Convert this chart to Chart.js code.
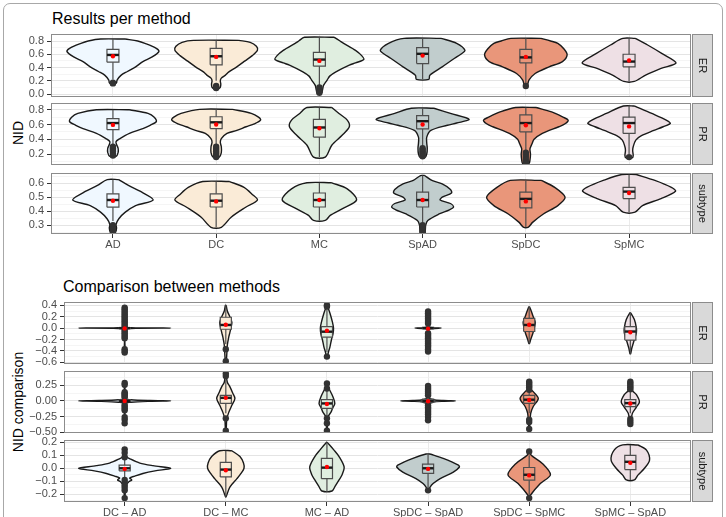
<!DOCTYPE html>
<html>
<head>
<meta charset="utf-8">
<script src="https://cdn.jsdelivr.net/npm/chart.js@4.4.1/dist/chart.umd.min.js"></script>
<style>
  body { margin: 0; width: 726px; height: 517px; overflow: hidden; background: #fff; position: relative;
         font-family: "Liberation Sans", Arial, sans-serif; }
  .frame { position: absolute; left: 3px; top: 3px; width: 718px; height: 530px; border: 1.5px solid #a8a8a8; border-radius: 7px; }
  .title { position: absolute; font-size: 16px; line-height: 16px; color: #000; white-space: nowrap; }
  .ylab { position: absolute; font-size: 14px; line-height: 16px; height: 16px; text-align: center; color: #000;
          transform: rotate(-90deg); white-space: nowrap; }
  canvas { position: absolute; left: 0; }
</style>
</head>
<body>
<div class="frame"></div>
<div class="title" style="left:52px; top:11px;">Results per method</div>
<div class="title" style="left:63px; top:279px;">Comparison between methods</div>
<div class="ylab" style="left:-12px; top:125px; width:60px;">NID</div>
<div class="ylab" style="left:-52px; top:394px; width:140px;">NID comparison</div>
<canvas id="c1"></canvas>
<canvas id="c2"></canvas>
<canvas id="c3"></canvas>
<canvas id="c4"></canvas>
<canvas id="c5"></canvas>
<canvas id="c6"></canvas>
<script>
const methods = ['AD', 'DC', 'MC', 'SpAD', 'SpDC', 'SpMC'];
const pairs = ['DC – AD', 'DC – MC', 'MC – AD', 'SpDC – SpAD', 'SpDC – SpMC', 'SpMC – SpAD'];
const fills = ['#F0F8FF', '#FAEBD7', '#E0EEE0', '#C1CDCD', '#E9967A', '#EEE0E5'];

// violin outlines: [value, half width in category units], top to bottom
// boxes: [lower whisker, q1, median, q3, upper whisker]

// Results per method - ER
const resErTicks = [0, 0.2, 0.4, 0.6, 0.8];
const resErViolin = [
  [[0.83,0.12],[0.80,0.24],[0.765,0.31],[0.69,0.42],[0.64,0.445],[0.56,0.38],[0.49,0.29],[0.41,0.22],[0.34,0.14],[0.285,0.08],[0.21,0.04],[0.17,0.035],[0.15,0.02]],
  [[0.81,0.22],[0.78,0.33],[0.72,0.39],[0.66,0.40],[0.58,0.35],[0.50,0.28],[0.41,0.2],[0.33,0.12],[0.285,0.09],[0.24,0.05],[0.2,0.04],[0.15,0.045],[0.1,0.04],[0.08,0.02]],
  [[0.856,0.145],[0.80,0.2],[0.765,0.235],[0.66,0.35],[0.58,0.41],[0.52,0.43],[0.47,0.35],[0.436,0.29],[0.335,0.16],[0.27,0.1],[0.21,0.075],[0.13,0.04],[0.06,0.03],[0.01,0.02]],
  [[0.84,0.18],[0.765,0.33],[0.66,0.41],[0.60,0.37],[0.54,0.31],[0.41,0.19],[0.285,0.07],[0.22,0.06]],
  [[0.84,0.145],[0.80,0.24],[0.765,0.31],[0.68,0.37],[0.59,0.40],[0.49,0.355],[0.41,0.225],[0.31,0.09],[0.21,0.03],[0.14,0.015]],
  [[0.84,0.06],[0.74,0.18],[0.61,0.32],[0.47,0.455],[0.386,0.31],[0.285,0.16],[0.19,0.05]]
];
const resErBox = [[0.22,0.48,0.59,0.675,0.83],[0.2,0.44,0.57,0.69,0.81],[0.13,0.42,0.52,0.63,0.856],[0.22,0.46,0.607,0.70,0.84],[0.14,0.47,0.553,0.674,0.84],[0.19,0.41,0.49,0.60,0.84]];
const resErMean = [0.57, 0.56, 0.50, 0.58, 0.56, 0.505];
const resErOut = [[0.17,0.16],[0.12,0.10,0.09],[0.10,0.07,0.04,0.02],[],[0.12],[]];

// Results per method - PR
const resPrTicks = [0.2, 0.4, 0.6, 0.8];
const resPrViolin = [
  [[0.80,0.16],[0.75,0.34],[0.70,0.40],[0.64,0.42],[0.59,0.36],[0.545,0.29],[0.48,0.16],[0.41,0.068],[0.37,0.03],[0.33,0.035],[0.28,0.05],[0.22,0.05],[0.17,0.03]],
  [[0.805,0.16],[0.75,0.34],[0.70,0.41],[0.66,0.43],[0.61,0.37],[0.57,0.29],[0.52,0.2],[0.48,0.105],[0.41,0.05],[0.36,0.04],[0.30,0.05],[0.22,0.05],[0.16,0.03]],
  [[0.83,0.12],[0.75,0.19],[0.66,0.27],[0.57,0.29],[0.455,0.22],[0.32,0.12],[0.16,0.057]],
  [[0.82,0.11],[0.75,0.27],[0.67,0.45],[0.62,0.33],[0.59,0.24],[0.52,0.08],[0.43,0.04],[0.35,0.04],[0.28,0.045],[0.2,0.04],[0.16,0.025]],
  [[0.83,0.1],[0.77,0.25],[0.70,0.36],[0.66,0.41],[0.61,0.38],[0.57,0.32],[0.48,0.16],[0.40,0.08],[0.34,0.06],[0.27,0.04],[0.2,0.045],[0.12,0.04],[0.07,0.03]],
  [[0.85,0.055],[0.75,0.22],[0.66,0.36],[0.615,0.40],[0.57,0.33],[0.52,0.24],[0.45,0.12],[0.39,0.065],[0.3,0.04],[0.25,0.035],[0.18,0.04],[0.15,0.03]]
];
const resPrBox = [[0.32,0.53,0.62,0.68,0.80],[0.33,0.546,0.63,0.705,0.805],[0.16,0.43,0.56,0.67,0.83],[0.30,0.54,0.645,0.72,0.82],[0.24,0.50,0.62,0.73,0.83],[0.20,0.48,0.62,0.70,0.85]];
const resPrMean = [0.595, 0.60, 0.55, 0.60, 0.59, 0.575];
const resPrOut = [[0.30,0.28,0.26,0.24,0.21,0.18],[0.30,0.27,0.24,0.21,0.18,0.16],[],[0.28,0.26,0.24,0.22,0.20,0.18,0.17],[0.22,0.19,0.16,0.12,0.09,0.07],[0.16]];

// Results per method - subtype
const resSubTicks = [0.3, 0.4, 0.5, 0.6];
const resSubViolin = [
  [[0.626,0.055],[0.584,0.15],[0.536,0.28],[0.48,0.39],[0.44,0.22],[0.393,0.12],[0.346,0.057],[0.305,0.03],[0.28,0.035],[0.25,0.025]],
  [[0.612,0.13],[0.57,0.27],[0.52,0.35],[0.48,0.40],[0.43,0.29],[0.357,0.145],[0.285,0.05]],
  [[0.603,0.12],[0.56,0.27],[0.48,0.36],[0.417,0.22],[0.37,0.105],[0.334,0.057]],
  [[0.655,0.02],[0.62,0.09],[0.595,0.19],[0.555,0.27],[0.53,0.28],[0.50,0.19],[0.48,0.17],[0.455,0.27],[0.43,0.3],[0.41,0.26],[0.38,0.16],[0.334,0.05],[0.3,0.03],[0.24,0.02]],
  [[0.62,0.15],[0.57,0.28],[0.50,0.38],[0.44,0.31],[0.38,0.17],[0.32,0.065],[0.286,0.025]],
  [[0.662,0.07],[0.62,0.25],[0.57,0.41],[0.543,0.45],[0.49,0.31],[0.44,0.13],[0.393,0.057]]
];
const resSubBox = [[0.33,0.429,0.48,0.524,0.626],[0.285,0.43,0.475,0.524,0.612],[0.334,0.43,0.48,0.53,0.603],[0.32,0.43,0.48,0.536,0.655],[0.286,0.424,0.488,0.536,0.62],[0.393,0.49,0.54,0.57,0.662]];
const resSubMean = [0.475, 0.47, 0.48, 0.48, 0.47, 0.53];
const resSubOut = [[0.30,0.28,0.27,0.25],[],[],[0.30,0.28,0.26,0.25],[],[]];

// Comparison between methods - ER
const cmpErTicks = [-0.6, -0.4, -0.2, 0, 0.2, 0.4];
const cmpErViolin = [
  [[0.37,0.004],[0.03,0.006],[0.006,0.06],[0,0.455],[-0.006,0.06],[-0.03,0.006],[-0.43,0.004]],
  [[0.40,0.004],[0.3,0.015],[0.2,0.04],[0.1,0.06],[0.0,0.05],[-0.08,0.04],[-0.15,0.03],[-0.3,0.015],[-0.45,0.01],[-0.58,0.004]],
  [[0.40,0.004],[0.36,0.01],[0.26,0.03],[0.1,0.055],[0.0,0.065],[-0.1,0.06],[-0.2,0.045],[-0.33,0.03],[-0.42,0.015],[-0.5,0.004]],
  [[0.29,0.004],[0.03,0.006],[0.008,0.04],[0,0.13],[-0.008,0.04],[-0.03,0.006],[-0.41,0.004]],
  [[0.375,0.003],[0.3,0.02],[0.2,0.04],[0.1,0.06],[0.0,0.05],[-0.1,0.035],[-0.2,0.015],[-0.27,0.003]],
  [[0.27,0.003],[0.15,0.04],[0.0,0.06],[-0.08,0.06],[-0.2,0.04],[-0.35,0.015],[-0.45,0.003]]
];
const cmpErBox = [[-0.03,-0.005,0.0,0.005,0.03],[-0.28,-0.02,0.055,0.19,0.40],[-0.42,-0.16,-0.063,0.025,0.36],[-0.04,-0.01,0.0,0.015,0.04],[-0.27,-0.06,0.055,0.17,0.375],[-0.45,-0.21,-0.06,0.025,0.27]];
const cmpErMean = [-0.005, 0.06, -0.045, -0.01, 0.06, -0.075];
const cmpErOut = [
  [0.36,0.33,0.30,0.27,0.24,0.21,0.18,0.15,0.12,0.09,0.06,0.03,-0.03,-0.06,-0.09,-0.12,-0.15,-0.18,-0.37,-0.40,-0.43],
  [-0.37,-0.58],
  [0.40,0.38,-0.50],
  [0.29,0.26,0.23,0.20,0.17,0.14,0.11,0.08,-0.09,-0.12,-0.15,-0.18,-0.21,-0.24,-0.27,-0.30,-0.33,-0.37,-0.41],
  [],
  []
];

// Comparison between methods - PR
const cmpPrTicks = [-0.5, -0.25, 0, 0.25];
const cmpPrViolin = [
  [[0.29,0.003],[0.04,0.01],[0.02,0.06],[0.006,0.25],[0,0.455],[-0.006,0.25],[-0.02,0.06],[-0.04,0.01],[-0.36,0.003]],
  [[0.44,0.003],[0.30,0.015],[0.23,0.04],[0.12,0.07],[0.04,0.09],[-0.07,0.06],[-0.18,0.03],[-0.29,0.01],[-0.48,0.003]],
  [[0.28,0.003],[0.2,0.02],[0.065,0.06],[-0.04,0.078],[-0.12,0.055],[-0.18,0.04],[-0.26,0.01],[-0.48,0.003]],
  [[0.24,0.003],[0.05,0.01],[0.02,0.05],[0.006,0.15],[0,0.27],[-0.006,0.15],[-0.02,0.05],[-0.05,0.01],[-0.31,0.003]],
  [[0.31,0.003],[0.2,0.01],[0.15,0.04],[0.04,0.09],[-0.09,0.04],[-0.2,0.015],[-0.45,0.003]],
  [[0.31,0.003],[0.17,0.02],[0.1,0.06],[-0.015,0.09],[-0.1,0.06],[-0.2,0.02],[-0.37,0.003]]
];
const cmpPrBox = [[-0.04,-0.01,0.0,0.02,0.05],[-0.2,-0.04,0.05,0.09,0.35],[-0.26,-0.12,-0.04,0.02,0.24],[-0.05,-0.02,0.0,0.03,0.06],[-0.2,-0.04,0.02,0.09,0.15],[-0.2,-0.09,-0.035,0.02,0.17]];
const cmpPrMean = [0.0, 0.05, -0.05, -0.005, 0.015, -0.04];
const cmpPrOut = [
  [0.29,0.26,0.14,0.12,0.10,0.08,0.06,-0.06,-0.09,-0.12,-0.15,-0.26,-0.30,-0.36],
  [0.44,0.40,-0.28,-0.48],
  [0.28,0.20,-0.28,-0.36,-0.48],
  [0.24,0.21,0.18,0.15,0.12,0.09,-0.07,-0.10,-0.13,-0.16,-0.19,-0.22,-0.26,-0.31],
  [0.31,0.28,0.25,0.22,0.18,-0.30,-0.34,-0.45],
  [0.31,0.28,0.25,0.22,0.19,-0.29,-0.33,-0.37]
];

// Comparison between methods - subtype
const cmpSubTicks = [-0.2, -0.1, 0, 0.1, 0.2];
const cmpSubViolin = [
  [[0.146,0.003],[0.09,0.02],[0.07,0.06],[0.04,0.15],[0.02,0.28],[0,0.455],[-0.02,0.3],[-0.04,0.18],[-0.06,0.1],[-0.075,0.05],[-0.09,0.07],[-0.105,0.04],[-0.14,0.01],[-0.23,0.003]],
  [[0.135,0.06],[0.09,0.14],[0.04,0.175],[0,0.18],[-0.04,0.15],[-0.08,0.11],[-0.145,0.04],[-0.22,0.003]],
  [[0.2,0.003],[0.14,0.07],[0.09,0.12],[0.01,0.17],[-0.05,0.15],[-0.09,0.12],[-0.14,0.08],[-0.175,0.05]],
  [[0.11,0.02],[0.076,0.15],[0.024,0.3],[0.01,0.31],[-0.03,0.25],[-0.08,0.12],[-0.118,0.05],[-0.145,0.02],[-0.17,0.005]],
  [[0.13,0.003],[0.1,0.02],[0.037,0.13],[-0.05,0.21],[-0.118,0.11],[-0.21,0.01],[-0.23,0.003]],
  [[0.18,0.075],[0.14,0.16],[0.062,0.19],[0,0.14],[-0.053,0.075],[-0.09,0.04]]
];
const cmpSubBox = [[-0.08,-0.02,0.0,0.024,0.08],[-0.22,-0.067,-0.01,0.045,0.135],[-0.175,-0.08,0.005,0.076,0.2],[-0.145,-0.04,0.0,0.032,0.11],[-0.21,-0.092,-0.05,0.006,0.1],[-0.09,-0.01,0.05,0.1,0.18]];
const cmpSubMean = [-0.005, -0.015, 0.01, -0.005, -0.055, 0.042];
const cmpSubOut = [[0.146,0.12,0.085,-0.09,-0.11,-0.13,-0.15,-0.17,-0.23],[],[],[-0.17],[0.13,-0.23],[]];

const panels = [
  { id: 'c1', top: 34, bottom: 97, left: 51, cats: methods, violin: resErViolin, box: resErBox, mean: resErMean, out: resErOut,
    ticks: resErTicks, min: -0.045, max: 0.906, dec: 1, strip: 'ER', showX: false, boxHalf: 0.058 },
  { id: 'c2', top: 103, bottom: 164.5, left: 51, cats: methods, violin: resPrViolin, box: resPrBox, mean: resPrMean, out: resPrOut,
    ticks: resPrTicks, min: 0.053, max: 0.891, dec: 1, strip: 'PR', showX: false, boxHalf: 0.058 },
  { id: 'c3', top: 172.5, bottom: 233.5, left: 51, cats: methods, violin: resSubViolin, box: resSubBox, mean: resSubMean, out: resSubOut,
    ticks: resSubTicks, min: 0.237, max: 0.673, dec: 1, strip: 'subtype', showX: true, boxHalf: 0.058 },
  { id: 'c4', top: 302, bottom: 364, left: 64, cats: pairs, violin: cmpErViolin, box: cmpErBox, mean: cmpErMean, out: cmpErOut,
    ticks: cmpErTicks, min: -0.63, max: 0.458, dec: 1, strip: 'ER', showX: false, boxHalf: 0.055 },
  { id: 'c5', top: 371, bottom: 432.7, left: 64, cats: pairs, violin: cmpPrViolin, box: cmpPrBox, mean: cmpPrMean, out: cmpPrOut,
    ticks: cmpPrTicks, min: -0.516, max: 0.482, dec: 2, strip: 'PR', showX: false, boxHalf: 0.055 },
  { id: 'c6', top: 440, bottom: 501.7, left: 64, cats: pairs, violin: cmpSubViolin, box: cmpSubBox, mean: cmpSubMean, out: cmpSubOut,
    ticks: cmpSubTicks, min: -0.26, max: 0.218, dec: 1, strip: 'subtype', showX: true, boxHalf: 0.055 }
];

Chart.defaults.font.family = '"Liberation Sans", Arial, sans-serif';
Chart.defaults.font.size = 11;
Chart.defaults.color = '#4d4d4d';
Chart.defaults.animation = false;

const PAD = 14;
const AXIS_W = 45;
const X_AXIS_H = 20;
const PLOT_RIGHT = 691;

const framePlugin = {
  id: 'frame',
  afterDraw(chart, args, opts) {
    const { ctx, chartArea: a } = chart;
    ctx.save();
    ctx.strokeStyle = '#8c8c8c';
    ctx.lineWidth = 1;
    ctx.strokeRect(a.left + 0.5, a.top + 0.5, a.width - 1, a.height - 1);
    ctx.fillStyle = '#d9d9d9';
    ctx.fillRect(a.right + 1, a.top, 20.5, a.height);
    ctx.strokeRect(a.right + 1.5, a.top + 0.5, 20, a.height - 1);
    ctx.translate(a.right + 11.5, a.top + a.height / 2);
    ctx.rotate(Math.PI / 2);
    ctx.fillStyle = '#1a1a1a';
    ctx.font = '11px "Liberation Sans", Arial, sans-serif';
    ctx.textAlign = 'center';
    ctx.textBaseline = 'middle';
    ctx.fillText(opts.label, 0, 0);
    ctx.restore();
  }
};

function fmt(v, dec) {
  const s = (Math.abs(v) < 1e-9 ? 0 : v).toFixed(dec);
  return s.replace('-', '\u2212');
}

function buildDatasets(p) {
  const ds = [];
  const bw = p.boxHalf;
  p.cats.forEach((cat, i) => {
    const c = i + 1;
    const prof = p.violin[i];
    const right = prof.map(q => ({ x: c + q[1], y: q[0] }));
    const left = prof.slice().reverse().map(q => ({ x: c - q[1], y: q[0] }));
    ds.push({ data: right.concat(left, [right[0]]), showLine: true, fill: 'shape', backgroundColor: fills[i],
      borderColor: '#1a1a1a', borderWidth: 1.4, tension: 0.3, pointRadius: 0, order: 6 });
    const [lo, q1, med, q3, hi] = p.box[i];
    ds.push({ data: [{ x: c, y: lo }, { x: c, y: hi }], showLine: true, borderColor: '#4d4d4d', borderWidth: 1.2,
      pointRadius: 0, order: 5 });
    ds.push({ data: [{ x: c - bw, y: q1 }, { x: c + bw, y: q1 }, { x: c + bw, y: q3 }, { x: c - bw, y: q3 }, { x: c - bw, y: q1 }],
      showLine: true, fill: 'shape', backgroundColor: fills[i], borderColor: '#4d4d4d', borderWidth: 1.2, pointRadius: 0, order: 4 });
    ds.push({ data: [{ x: c - bw, y: med }, { x: c + bw, y: med }], showLine: true, borderColor: '#1a1a1a', borderWidth: 2.4,
      pointRadius: 0, order: 3 });
    ds.push({ data: p.out[i].map(v => ({ x: c, y: v })), showLine: false, pointRadius: 3.2, pointBackgroundColor: '#333333',
      pointBorderColor: '#333333', pointBorderWidth: 0, order: 2 });
    ds.push({ data: [{ x: c, y: p.mean[i] }], showLine: false, pointRadius: 2.2, pointBackgroundColor: '#ff0000',
      pointBorderColor: '#ff0000', pointBorderWidth: 0, order: 1 });
  });
  return ds;
}

panels.forEach(p => {
  const canvas = document.getElementById(p.id);
  const h = p.bottom - p.top;
  const extra = p.showX ? X_AXIS_H : PAD;
  canvas.width = 726;
  canvas.height = Math.round(PAD + h + extra);
  canvas.style.top = (p.top - PAD) + 'px';

  new Chart(canvas, {
    type: 'scatter',
    data: { datasets: buildDatasets(p) },
    options: {
      responsive: false,
      devicePixelRatio: 1,
      layout: { padding: { left: p.left - AXIS_W, right: 726 - PLOT_RIGHT, top: PAD, bottom: p.showX ? 0 : PAD } },
      plugins: { legend: { display: false }, tooltip: { enabled: false }, frame: { label: p.strip } },
      scales: {
        x: {
          type: 'linear', min: 0.4, max: 6.6,
          afterBuildTicks: s => { s.ticks = p.cats.map((c, i) => ({ value: i + 1 })); },
          afterFit: s => { s.height = p.showX ? X_AXIS_H : 0; },
          ticks: { display: p.showX, autoSkip: false, maxRotation: 0, padding: 0, callback: (v, i) => p.cats[i] },
          grid: { color: '#ebebeb', lineWidth: 1, drawTicks: p.showX, tickLength: 4, tickColor: '#333333' },
          border: { display: false }
        },
        y: {
          type: 'linear', min: p.min, max: p.max,
          afterBuildTicks: s => {
            const step = (p.ticks[1] - p.ticks[0]) / 2;
            const list = [];
            for (let k = -3; k <= 2 * (p.ticks.length - 1) + 3; k++) {
              const v = +(p.ticks[0] + k * step).toFixed(6);
              if (v >= p.min && v <= p.max) list.push({ value: v, minor: k % 2 !== 0 });
            }
            s.ticks = list;
          },
          afterFit: s => { s.width = AXIS_W; },
          ticks: { padding: 3, autoSkip: false, callback: (v, i, t) => (t[i].minor ? '' : fmt(v, p.dec)) },
          grid: {
            color: c => (c.tick && c.tick.minor ? '#f1f1f1' : '#e4e4e4'),
            lineWidth: c => (c.tick && c.tick.minor ? 0.7 : 1),
            tickLength: 4,
            tickColor: c => (c.tick && c.tick.minor ? 'rgba(0,0,0,0)' : '#333333')
          },
          border: { display: false }
        }
      }
    },
    plugins: [framePlugin]
  });
});
</script>
</body>
</html>
